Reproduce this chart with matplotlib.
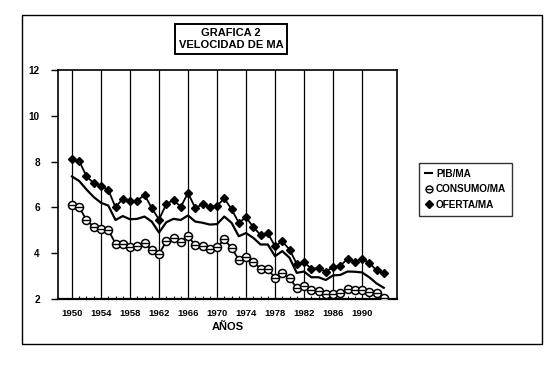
import numpy as np
import matplotlib
matplotlib.use('Agg')
import matplotlib.pyplot as plt
from matplotlib.lines import Line2D
from matplotlib.legend_handler import HandlerTuple
from matplotlib.patches import Rectangle

plt.rcParams['font.family'] = ['Liberation Sans', 'DejaVu Sans']
plt.rcParams['font.weight'] = 'bold'

# datos
anios = list(range(1950, 1994))
pib_ma = [7.35, 7.15, 6.78, 6.45, 6.2, 6.08, 5.45, 5.62, 5.48, 5.5,
          5.6, 5.38, 4.9, 5.35, 5.5, 5.45, 5.65, 5.38, 5.33, 5.25,
          5.27, 5.6, 5.33, 4.74, 4.88, 4.67, 4.38, 4.38, 3.87, 4.09,
          3.8, 3.14, 3.2, 2.95, 2.95, 2.83, 3.03, 3.05, 3.2, 3.19,
          3.16, 2.95, 2.68, 2.49]
consumo_ma = [6.1, 6.0, 5.45, 5.15, 5.07, 5.02, 4.42, 4.4, 4.27, 4.33,
              4.45, 4.15, 3.95, 4.53, 4.68, 4.48, 4.74, 4.35, 4.3, 4.2,
              4.25, 4.6, 4.23, 3.72, 3.83, 3.62, 3.33, 3.29, 2.93, 3.14,
              2.9, 2.49, 2.58, 2.4, 2.36, 2.23, 2.2, 2.27, 2.42, 2.38,
              2.4, 2.32, 2.24, 2.03]
oferta_ma = [8.12, 8.03, 7.35, 7.06, 6.94, 6.77, 6.0, 6.38, 6.27, 6.29,
             6.55, 5.97, 5.47, 6.14, 6.33, 6.02, 6.63, 5.97, 6.14, 6.0,
             6.06, 6.4, 5.92, 5.33, 5.57, 5.14, 4.8, 4.88, 4.3, 4.52,
             4.16, 3.53, 3.6, 3.33, 3.34, 3.2, 3.39, 3.45, 3.75, 3.63,
             3.75, 3.58, 3.25, 3.12]
etiquetas_x = list(range(1950, 1991, 4))
etiquetas_y = [2, 4, 6, 8, 10, 12]

fig = plt.figure(figsize=(5.54, 3.67), dpi=100)
ax = fig.add_axes([0.1047, 0.1853, 0.612, 0.624])

# lineas verticales cada 4 anios
for a in etiquetas_x:
    ax.axvline(a, color='black', lw=0.9, zorder=1)

ax.plot(anios, pib_ma, color='black', lw=1.6, zorder=3)
ax.plot(anios, oferta_ma, color='black', lw=1.3, marker='D', ms=4.4,
        mfc='black', mec='black', zorder=3)
ax.plot(anios, consumo_ma, color='black', lw=1.3, marker='o', ms=5.8,
        mfc='white', mec='black', mew=1.1, zorder=3)
ax.plot(anios, consumo_ma, linestyle='none', marker='_', ms=5.8,
        mec='black', mew=1.0, zorder=4)

ax.set_xlim(1948.07, 1994.83)
ax.set_ylim(2, 12)
ax.set_xticks(etiquetas_x)
ax.set_xticklabels([str(a) for a in etiquetas_x], fontsize=6.8, fontweight='bold')
ax.set_xticks(anios, minor=True)
ax.tick_params(axis='x', which='major', length=0, pad=7)
ax.tick_params(axis='x', which='minor', direction='in', length=2.5, width=0.8)
ax.set_yticks(etiquetas_y)
ax.set_yticklabels([str(v) for v in etiquetas_y], fontsize=7.2, fontweight='bold')
ax.tick_params(axis='y', direction='out', length=5, width=1, pad=8)
for s in ax.spines.values():
    s.set_linewidth(1.2)
ax.spines['bottom'].set_linewidth(1.6)
ax.set_xlabel('AÑOS', fontsize=8, fontweight='bold', labelpad=3)

# leyenda
h_pib = Line2D([], [], color='black', lw=1.5)
h_con = (Line2D([], [], linestyle='none', marker='o', ms=5, mfc='white', mec='black'),
         Line2D([], [], linestyle='none', marker='_', ms=5, mec='black'))
h_ofe = Line2D([], [], linestyle='none', marker='D', ms=3.8, color='black')
fig.legend([h_pib, h_con, h_ofe], ['PIB/MA', 'CONSUMO/MA', 'OFERTA/MA'],
           handler_map={tuple: HandlerTuple(ndivide=1)},
           loc='upper left', bbox_to_anchor=(414 / 554, 1 - 158 / 367),
           prop={'size': 7.2, 'weight': 'bold'}, handlelength=0.7,
           handletextpad=0.4, labelspacing=0.55, borderpad=0.6,
           frameon=True, fancybox=False, edgecolor='black')
leg = fig.legends[0]
leg.get_frame().set_linewidth(1.0)

# titulo en recuadro
fig.text(231 / 554, 1 - 39 / 367, 'GRAFICA 2\nVELOCIDAD DE MA', ha='center', va='center',
         fontsize=8, fontweight='bold', linespacing=1.3,
         bbox=dict(boxstyle='square,pad=0.3', fc='white', ec='black', lw=1.4))

# marco exterior
fig.patches.append(Rectangle((22 / 554, 1 - 344 / 367), 520 / 554, 329 / 367,
                             transform=fig.transFigure, fill=False,
                             ec='black', lw=1.0))

plt.savefig('out.png', dpi=100)
